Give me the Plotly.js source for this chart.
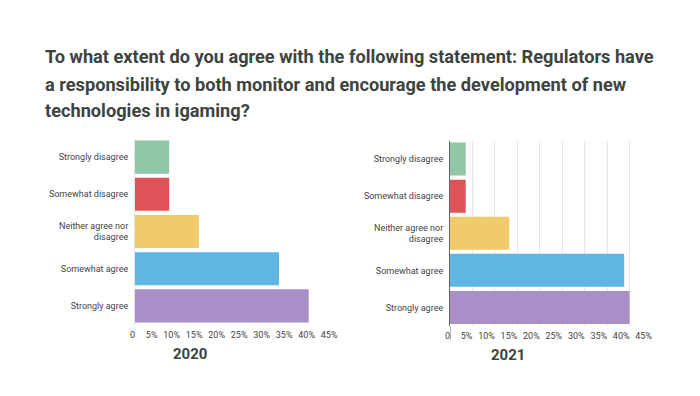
<!DOCTYPE html>
<html>
<head>
<meta charset="utf-8">
<script src="https://cdn.plot.ly/plotly-3.0.1.min.js"></script>
<style>html,body{margin:0;padding:0;background:#fff;}#chart{width:700px;height:396px;}</style>
</head>
<body>
<div id="chart"></div>
<script>
const titleLines = [
  "To what extent do you agree with the following statement: Regulators have",
  "a responsibility to both monitor and encourage the development of new",
  "technologies in igaming?"
];
const categories = ["Strongly disagree", "Somewhat disagree", "Neither agree nor<br>disagree", "Somewhat agree", "Strongly agree"];
const barColors = ["#8ec6a6", "#df5358", "#f0cb6b", "#5fb6e3", "#a98fc7"];
const values2020 = [7.6, 7.6, 14.2, 32.0, 38.6];
const values2021 = [3.5, 3.5, 13.2, 38.8, 40.0];
const tickVals = [0, 5, 10, 15, 20, 25, 30, 35, 40, 45];
const tickText = ["0", "5%", "10%", "15%", "20%", "25%", "30%", "35%", "40%", "45%"];
const yearLabels = ["2020", "2021"];

const W = 700, H = 396;
const px = v => v / W;
const py = v => 1 - v / H;

const font = "Roboto, 'Open Sans', sans-serif";
const traces = [
  {type: "bar", orientation: "h", y: categories, x: values2020, xaxis: "x", yaxis: "y",
   marker: {color: barColors, line: {width: 0}}, hoverinfo: "x+y"},
  {type: "bar", orientation: "h", y: categories, x: values2021, xaxis: "x2", yaxis: "y2",
   marker: {color: barColors, line: {width: 0}}, hoverinfo: "x+y"}
];

const xCommon = {
  range: [0, 45], tickvals: tickVals, ticktext: tickText, ticks: "", zeroline: false,
  tickangle: 0, ticklabelposition: "outside left", ticklabelstandoff: 3,
  tickfont: {family: font, size: 9, color: "#444"}, fixedrange: true
};
const yCommon = {
  autorange: "reversed", ticks: "", showgrid: false, zeroline: false,
  tickfont: {family: font, size: 9, color: "#444"}, ticklabelstandoff: 4, fixedrange: true
};

const layout = {
  width: W, height: H,
  margin: {l: 0, r: 0, t: 0, b: 0},
  paper_bgcolor: "#fff", plot_bgcolor: "#fff",
  showlegend: false, bargap: 0.11,
  xaxis: Object.assign({}, xCommon, {domain: [px(135), px(337.5)], anchor: "y", showgrid: false}),
  yaxis: Object.assign({}, yCommon, {domain: [py(324.5), py(138.5)], anchor: "x", showline: true, linecolor: "#e4e4e4", linewidth: 1}),
  xaxis2: Object.assign({}, xCommon, {domain: [px(450), px(652)], anchor: "y2", showgrid: true, gridcolor: "#e6e6e6", gridwidth: 1}),
  yaxis2: Object.assign({}, yCommon, {domain: [py(326), py(140.5)], anchor: "x2", showline: true, linecolor: "#666", linewidth: 1}),
  shapes: [
    {type: "line", xref: "x", yref: "paper", x0: 0, x1: 0, y0: py(338), y1: py(324.5), line: {color: "#e4e4e4", width: 1}},
    {type: "line", xref: "x2", yref: "paper", x0: 0, x1: 0, y0: py(340), y1: py(326), line: {color: "#666", width: 1}}
  ],
  annotations: titleLines.map((t, i) => ({
    text: "<b>" + t + "</b>", xref: "paper", yref: "paper", x: px(43), y: py(57 + 27 * i),
    xanchor: "left", yanchor: "middle", showarrow: false,
    font: {family: font, size: 18.2, color: "#3d433f"}
  })).concat([
    {text: "<b>" + yearLabels[0] + "</b>", xref: "paper", yref: "paper", x: px(190), y: py(354),
     xanchor: "center", yanchor: "middle", showarrow: false, font: {family: font, size: 15, color: "#3d433f"}},
    {text: "<b>" + yearLabels[1] + "</b>", xref: "paper", yref: "paper", x: px(508), y: py(355),
     xanchor: "center", yanchor: "middle", showarrow: false, font: {family: font, size: 15, color: "#3d433f"}}
  ])
};

Plotly.newPlot("chart", traces, layout, {displayModeBar: false, staticPlot: true});
</script>
</body>
</html>
